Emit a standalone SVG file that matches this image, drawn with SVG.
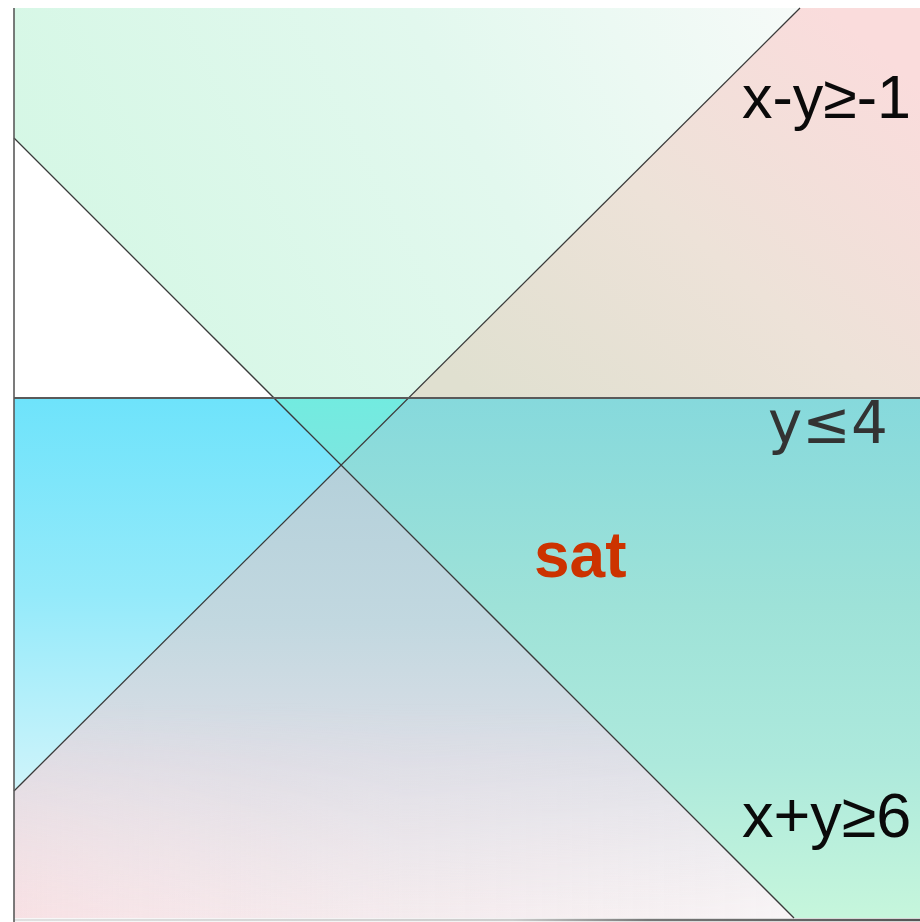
<svg xmlns="http://www.w3.org/2000/svg" width="920" height="922" viewBox="0 0 920 922">
  <defs>
    <linearGradient id="gA" gradientUnits="userSpaceOnUse" x1="14" y1="398" x2="800" y2="8">
      <stop offset="0" stop-color="#d2f7e3"/>
      <stop offset="0.6" stop-color="#e2f8ee"/>
      <stop offset="1" stop-color="#f6faf8"/>
    </linearGradient>
    <linearGradient id="gB" gradientUnits="userSpaceOnUse" x1="480" y1="398" x2="820" y2="0">
      <stop offset="0" stop-color="#e0e0d0"/>
      <stop offset="0.5" stop-color="#ede2d8"/>
      <stop offset="1" stop-color="#fadcdc"/>
    </linearGradient>
    <linearGradient id="gD" gradientUnits="userSpaceOnUse" x1="0" y1="398" x2="0" y2="791">
      <stop offset="0" stop-color="#6ee3fb"/>
      <stop offset="0.5" stop-color="#94eafa"/>
      <stop offset="1" stop-color="#cff4fa"/>
    </linearGradient>
    <linearGradient id="gE" gradientUnits="userSpaceOnUse" x1="0" y1="398" x2="0" y2="465">
      <stop offset="0" stop-color="#72ebe0"/>
      <stop offset="1" stop-color="#7ce6e0"/>
    </linearGradient>
    <linearGradient id="gF" gradientUnits="userSpaceOnUse" x1="0" y1="398" x2="0" y2="918">
      <stop offset="0" stop-color="#86d9dc"/>
      <stop offset="0.4" stop-color="#9ee2d8"/>
      <stop offset="0.7" stop-color="#ade9dc"/>
      <stop offset="1" stop-color="#c6f6dc"/>
    </linearGradient>
    <linearGradient id="gG" gradientUnits="userSpaceOnUse" x1="0" y1="465" x2="0" y2="918">
      <stop offset="0" stop-color="#b4d0da"/>
      <stop offset="0.35" stop-color="#c2d8e0"/>
      <stop offset="0.65" stop-color="#dcdee6"/>
      <stop offset="1" stop-color="#f4eef0"/>
    </linearGradient>
    <linearGradient id="gG2" gradientUnits="userSpaceOnUse" x1="14" y1="0" x2="794" y2="0">
      <stop offset="0" stop-color="#fad8dc" stop-opacity="0.6"/>
      <stop offset="0.5" stop-color="#f6e6ea" stop-opacity="0.3"/>
      <stop offset="1" stop-color="#ffffff" stop-opacity="0.4"/>
    </linearGradient>
    <linearGradient id="gAxis" gradientUnits="userSpaceOnUse" x1="14" y1="0" x2="920" y2="0">
      <stop offset="0" stop-color="#e0e0e0"/>
      <stop offset="0.55" stop-color="#cccccc"/>
      <stop offset="0.7" stop-color="#777777"/>
      <stop offset="1" stop-color="#555555"/>
    </linearGradient>
    <linearGradient id="gG2mask" gradientUnits="userSpaceOnUse" x1="0" y1="700" x2="0" y2="918">
      <stop offset="0" stop-color="#ffffff" stop-opacity="0"/>
      <stop offset="1" stop-color="#ffffff" stop-opacity="1"/>
    </linearGradient>
    <mask id="mG2">
      <rect x="0" y="0" width="920" height="922" fill="url(#gG2mask)"/>
    </mask>
  </defs>
  <style>
    .bound { fill: none; stroke: #3a3a3a; stroke-width: 1.3; }
    .lbl { font-family: "Liberation Sans", Arial, sans-serif; fill: #0a0a0a; }
  </style>

  <g id="regions">
    <polygon id="green-only" points="14,8 800,8 408.5,398 274,398 14,138" fill="url(#gA)"/>
    <polygon id="green-pink" points="800,8 920,8 920,398 408.5,398" fill="url(#gB)"/>
    <polygon id="white" points="14,138 274,398 14,398" fill="#ffffff"/>
    <polygon id="blue-only" points="14,398 274,398 341.5,465.5 14,791" fill="url(#gD)"/>
    <polygon id="blue-green" points="274,398 408.5,398 341.5,465.5" fill="url(#gE)"/>
    <polygon id="sat-region" points="408.5,398 920,398 920,918 794,918 341.5,465.5" fill="url(#gF)"/>
    <polygon id="blue-pink" points="341.5,465.5 794,918 14,918 14,791" fill="url(#gG)"/>
    <polygon id="blue-pink-tint" points="341.5,465.5 794,918 14,918 14,791" fill="url(#gG2)" mask="url(#mG2)"/>
  </g>

  <g id="connectors">
    <line id="line-xpy" class="bound" x1="14" y1="138" x2="794" y2="918"/>
    <line id="line-xmy" class="bound" x1="14" y1="791" x2="800" y2="8"/>
    <line id="line-y4" x1="14" y1="398" x2="920" y2="398" stroke="#5a5a5a" stroke-width="2"/>
    <line id="axis-x" x1="14" y1="920" x2="920" y2="920" stroke="url(#gAxis)" stroke-width="2.5"/>
    <line id="axis-y" x1="14" y1="8" x2="14" y2="922" stroke="#5a5a5a" stroke-width="1.6"/>
  </g>

  <g id="label-xmy">
    <text class="lbl" x="742" y="118" font-size="61">x-y≥-1</text>
  </g>
  <g id="label-y4">
    <text x="768" y="443" font-family="'DejaVu Sans', sans-serif" font-size="58" fill="#333333">y≤4</text>
  </g>
  <g id="label-xpy">
    <text class="lbl" x="742" y="837" font-size="63">x+y≥6</text>
  </g>
  <g id="label-sat">
    <text x="534" y="577" font-family="'Liberation Sans', Arial, sans-serif" font-weight="bold" font-size="64" fill="#cc3300">sat</text>
  </g>
</svg>
